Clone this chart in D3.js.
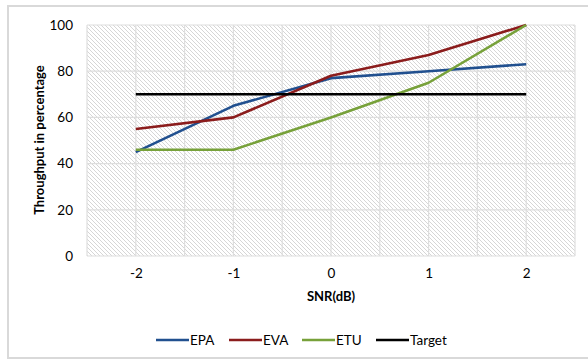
<!DOCTYPE html>
<html><head><meta charset="utf-8">
<script src="https://cdn.jsdelivr.net/npm/d3@7"></script>
<style>body{margin:0;background:#fff}svg{display:block}</style>
</head><body><svg id="c" width="588" height="362"></svg>
<script>
const snr = [-2, -1, 0, 1, 2];
const epa = [45, 65, 77, 80, 83];
const eva = [55, 60, 78, 87, 100];
const etu = [46, 46, 60, 75, 100];
const target = [70, 70, 70, 70, 70];
const yTicks = [0, 20, 40, 60, 80, 100];
const xTicks = [-2, -1, 0, 1, 2];
const seriesNames = ["EPA", "EVA", "ETU", "Target"];
const seriesColors = ["#21508f", "#8b1c1c", "#77a13a", "#000000"];
const seriesData = [epa, eva, etu, target];

const svg = d3.select("#c");
const font = "Lato, 'Open Sans', sans-serif";
const m = {l: 87, t: 25, r: 575, b: 256};
const x = d3.scaleLinear().domain([-2.5, 2.5]).range([m.l, m.r]);
const y = d3.scaleLinear().domain([0, 100]).range([m.b, m.t]);

// outer border
svg.append("rect").attr("x", 8).attr("y", 6).attr("width", 590).attr("height", 352)
  .attr("fill", "#fff").attr("stroke", "#d9d9d9").attr("stroke-width", 2);

// hatch pattern
const defs = svg.append("defs");
const pat = defs.append("pattern").attr("id", "hatch").attr("patternUnits", "userSpaceOnUse")
  .attr("width", 4).attr("height", 4);
pat.append("rect").attr("width", 4).attr("height", 4).attr("fill", "#ffffff");
pat.append("path").attr("d", "M-1,-1 L5,5 M-1,3 L1,5 M3,-1 L5,1")
  .attr("stroke", "#d6d6d6").attr("stroke-width", 1);

svg.append("rect").attr("x", m.l).attr("y", m.t).attr("width", m.r - m.l).attr("height", m.b - m.t)
  .attr("fill", "url(#hatch)");

// gridlines
const xg = d3.range(-2.5, 2.51, 0.5);
svg.append("g").selectAll("line").data(xg).join("line")
  .attr("x1", d => x(d)).attr("x2", d => x(d)).attr("y1", m.t).attr("y2", m.b)
  .attr("stroke", "#dedede").attr("stroke-width", 1.2);
svg.append("g").selectAll("line").data(yTicks).join("line")
  .attr("x1", m.l).attr("x2", m.r).attr("y1", d => y(d)).attr("y2", d => y(d))
  .attr("stroke", "#dedede").attr("stroke-width", 1.2);

// axes labels
const yAxis = d3.axisLeft(y).tickValues(yTicks).tickSize(0).tickPadding(14);
const ya = svg.append("g").attr("transform", `translate(${m.l},0)`).call(yAxis);
ya.select(".domain").remove();
ya.selectAll("text").attr("font-family", font).attr("font-size", 13.5).attr("fill", "#000");

const xAxis = d3.axisBottom(x).tickValues(xTicks).tickSize(0).tickPadding(12).tickFormat(d => String(d));
const xa = svg.append("g").attr("transform", `translate(0,${m.b})`).call(xAxis);
xa.select(".domain").remove();
xa.selectAll("text").attr("font-family", font).attr("font-size", 13.5).attr("fill", "#000");

// titles
svg.append("text").attr("x", 331).attr("y", 301).attr("text-anchor", "middle")
  .attr("font-family", font).attr("font-size", 13).attr("font-weight", "bold").text("SNR(dB)");
svg.append("text").attr("transform", "translate(44,140) rotate(-90)").attr("text-anchor", "middle")
  .attr("font-family", font).attr("font-size", 13).attr("font-weight", "bold").text("Throughput in percentage");

// lines
const line = d3.line().x((d, i) => x(snr[i])).y(d => y(d));
seriesData.forEach((s, k) => {
  svg.append("path").datum(s).attr("d", line).attr("fill", "none")
    .attr("stroke", seriesColors[k]).attr("stroke-width", 2.6).attr("stroke-linejoin", "round");
});

// legend
const legX = [156, 229, 302, 376];
const lg = svg.append("g");
seriesNames.forEach((n, k) => {
  lg.append("line").attr("x1", legX[k]).attr("x2", legX[k] + 33).attr("y1", 340).attr("y2", 340)
    .attr("stroke", seriesColors[k]).attr("stroke-width", 2.6);
  lg.append("text").attr("x", legX[k] + 34).attr("y", 344.5).attr("font-family", font)
    .attr("font-size", 13.5).text(n);
});
</script></body></html>
